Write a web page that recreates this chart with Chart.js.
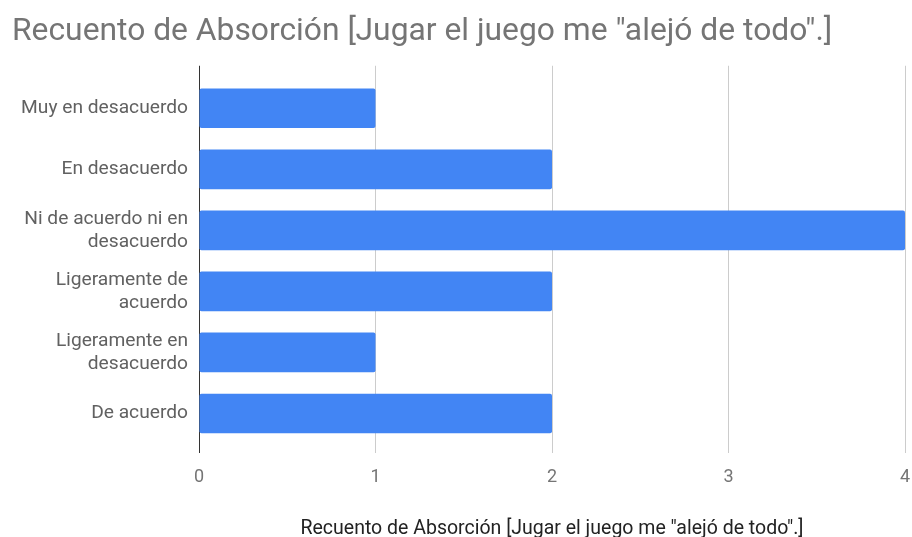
<!DOCTYPE html>
<html>
<head>
<meta charset="utf-8">
<script src="https://cdn.jsdelivr.net/npm/chart.js@4.4.1/dist/chart.umd.min.js"></script>
<style>
  html, body { margin: 0; padding: 0; background: #fff; }
  #wrap { width: 912px; height: 537px; }
</style>
</head>
<body>
<div id="wrap"><canvas id="chart"></canvas></div>
<script>
const chartTitle = 'Recuento de Absorción [Jugar el juego me "alejó de todo".]';
const axisTitle = 'Recuento de Absorción [Jugar el juego me "alejó de todo".]';
const categories = [
  'Muy en desacuerdo',
  'En desacuerdo',
  ['Ni de acuerdo ni en', 'desacuerdo'],
  ['Ligeramente de', 'acuerdo'],
  ['Ligeramente en', 'desacuerdo'],
  'De acuerdo'
];
const counts = [1, 2, 4, 2, 1, 2];
const xMin = 0, xMax = 4, xStep = 1;

// zero line is dark, other grid lines light
const gridColor = c => (c.tick && c.tick.value === 0 ? '#333333' : '#cccccc');

// keep the plot edges fixed, no extra room for edge tick labels
const noEdgePadding = s => { s.paddingLeft = 0; s.paddingRight = 0; };

new Chart(document.getElementById('chart'), {
  type: 'bar',
  data: {
    labels: categories,
    datasets: [{
      data: counts,
      backgroundColor: '#4285F4',
      borderRadius: 2,
      borderSkipped: false,
      barPercentage: 0.65,
      categoryPercentage: 1
    }]
  },
  options: {
    indexAxis: 'y',
    responsive: true,
    maintainAspectRatio: false,
    animation: false,
    layout: { padding: { left: 12, right: 7, top: 0, bottom: 0 } },
    plugins: {
      legend: { display: false },
      tooltip: { enabled: false },
      title: {
        display: true,
        text: chartTitle,
        align: 'start',
        color: '#757575',
        font: { family: 'Roboto', size: 31.8, weight: 'normal', lineHeight: 1.2 },
        padding: { top: 13, bottom: 14.6 }
      }
    },
    scales: {
      x: {
        type: 'linear',
        position: 'bottom',
        min: xMin, max: xMax,
        border: { display: false },
        grid: { color: gridColor, tickLength: 9, drawTicks: true },
        ticks: { stepSize: xStep, color: '#757575', padding: 14, font: { family: 'Roboto', size: 18 } },
        title: {
          display: true,
          text: axisTitle,
          color: '#222222',
          font: { family: 'Roboto', size: 19.5 },
          padding: { top: 0, bottom: -4 }
        },
        afterFit: s => { s.height = 93; noEdgePadding(s); }
      },
      // top axis only carries the short grid extension above the bars
      x2: {
        type: 'linear',
        position: 'top',
        min: xMin, max: xMax,
        border: { display: false },
        grid: { color: gridColor, drawOnChartArea: false, tickLength: 12 },
        ticks: { stepSize: xStep, display: false },
        afterFit: noEdgePadding
      },
      y: {
        border: { display: false },
        grid: { display: false, drawTicks: false },
        ticks: { color: '#616161', padding: 11, font: { family: 'Roboto', size: 19.2, lineHeight: 1.2 } },
        afterFit: s => { s.width = 187; }
      }
    }
  }
});
</script>
</body>
</html>
